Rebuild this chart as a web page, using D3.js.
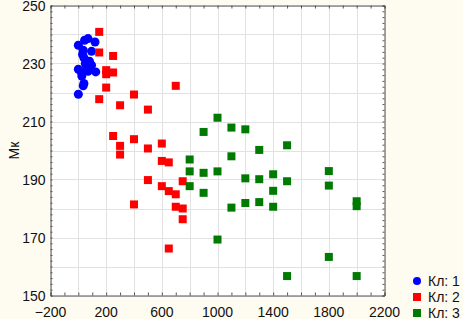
<!DOCTYPE html>
<html>

<head>
    <meta charset="UTF-8">
    <title>Clusters scatter</title>
    <script src="https://d3js.org/d3.v7.min.js"></script>
    <style>
        body { margin: 0; background: #fefbf1; }
        text { font-family: "Liberation Sans", Arial, sans-serif; }
    </style>
</head>

<body>
    <script>
        // Кл: 1
        const cl1X = [0, 45, 70, 120, 35, 30, 95, 50, 80, 95, 0, 20, 70, 125, 25, 40, 35, 0, 40, 60];
        const cl1Y = [236.3, 238, 238.6, 237.4, 234.6, 233.1, 234.2, 230, 230.8, 229.4, 228, 227.1, 227.3, 227.1, 225.7, 223.1, 222.3, 219.4, 232, 229];
        // Кл: 2
        const cl2X = [150, 150, 250, 200, 250, 200, 200, 700, 150, 400, 300, 500, 250, 400, 300, 300, 500, 600, 600, 650,
            500, 600, 650, 700, 750, 700, 750, 750, 400, 650];
        const cl2Y = [240.9, 233.8, 232.6, 227.7, 226.9, 226.3, 221.7, 222.3, 217.7, 219.3, 215.6, 214.1, 205, 203.9, 201.6, 198.6, 200.7, 202.4, 196.4, 195.9,
            189.8, 187.7, 186, 184.9, 189.4, 180.6, 180, 176.3, 181.4, 166.2];
        // Кл: 3
        const cl3X = [1000, 900, 1100, 1200, 1300, 1500, 1100, 800, 800, 900, 1000, 1200, 1300, 1400, 1500,
            800, 900, 1400, 1200, 1100, 1300, 1400, 1000, 1800, 1800, 2000, 2000, 1800, 2000, 1500];
        const cl3Y = [211.3, 206.4, 207.9, 207.3, 200.2, 201.8, 198, 196.9, 192.8, 192.3, 192.8, 190.4, 190.1, 191.8, 189.4,
            187.7, 185.4, 186.1, 181.9, 180.3, 182.2, 180.6, 169.3, 192.9, 187.9, 182.5, 180.8, 163.3, 156.7, 156.7];

        const legendLabels = ["Кл: 1", "Кл: 2", "Кл: 3"];
        const xTicks = [-200, 200, 600, 1000, 1400, 1800, 2200];
        const yTicks = [150, 170, 190, 210, 230, 250];
        const yLabel = "Мк";

        const width = 463, height = 319;
        const mLeft = 50.5, mRight = 384.5, mTop = 5.5, mBottom = 295.5;

        const x = d3.scaleLinear().domain([-200, 2200]).range([mLeft, mRight]);
        const y = d3.scaleLinear().domain([150, 250]).range([mBottom, mTop]);

        const svg = d3.select("body").append("svg")
            .attr("width", width).attr("height", height);

        svg.append("rect")
            .attr("x", mLeft).attr("y", mTop)
            .attr("width", mRight - mLeft).attr("height", mBottom - mTop)
            .attr("fill", "#ffffff");

        // grid
        const grid = svg.append("g").attr("stroke", "#e2e2e2").attr("stroke-width", 1);
        grid.selectAll("line.gx").data(d3.range(-200, 2201, 200)).enter().append("line")
            .attr("x1", d => Math.round(x(d)) + 0.5).attr("x2", d => Math.round(x(d)) + 0.5)
            .attr("y1", mTop).attr("y2", mBottom);
        grid.selectAll("line.gy").data(d3.range(150, 251, 10)).enter().append("line")
            .attr("y1", d => Math.round(y(d)) + 0.5).attr("y2", d => Math.round(y(d)) + 0.5)
            .attr("x1", mLeft).attr("x2", mRight);

        // axes: bottom/left with labels, top/right plain
        const fmt = d3.format("d");
        const xAxis = svg.append("g").attr("transform", `translate(0,${mBottom})`)
            .call(d3.axisBottom(x).tickValues(d3.range(-200, 2201, 100)).tickSize(-3).tickFormat(""));
        const yAxis = svg.append("g").attr("transform", `translate(${mLeft},0)`)
            .call(d3.axisLeft(y).tickValues(d3.range(150, 251, 2)).tickSize(-2).tickFormat(""));
        const xTop = svg.append("g").attr("transform", `translate(0,${mTop})`)
            .call(d3.axisTop(x).tickValues(d3.range(-200, 2201, 100)).tickSize(-3).tickFormat(""));
        const yRight = svg.append("g").attr("transform", `translate(${mRight},0)`)
            .call(d3.axisRight(y).tickValues(d3.range(150, 251, 2)).tickSize(-2).tickFormat(""));
        [xAxis, yAxis, xTop, yRight].forEach(g => {
            g.select(".domain").attr("stroke", "#555");
            g.selectAll(".tick line").attr("stroke", "#555");
        });

        svg.append("g").selectAll("text").data(xTicks).enter().append("text")
            .attr("x", d => x(d)).attr("y", mBottom + 21)
            .attr("text-anchor", "middle").attr("font-size", 14).attr("fill", "#111")
            .text(fmt);
        svg.append("g").selectAll("text").data(yTicks).enter().append("text")
            .attr("x", mLeft - 5).attr("y", d => y(d) + 5)
            .attr("text-anchor", "end").attr("font-size", 14).attr("fill", "#111")
            .text(fmt);

        svg.append("text")
            .attr("transform", `translate(19,${(mTop + mBottom) / 2}) rotate(-90)`)
            .attr("text-anchor", "middle").attr("font-size", 14).attr("fill", "#111")
            .text(yLabel);

        // points
        const pts = svg.append("g");
        pts.selectAll("circle").data(d3.zip(cl1X, cl1Y)).enter().append("circle")
            .attr("cx", d => x(d[0])).attr("cy", d => y(d[1])).attr("r", 4.5)
            .attr("fill", "#0000ff");
        pts.selectAll("rect.c2").data(d3.zip(cl2X, cl2Y)).enter().append("rect")
            .attr("class", "c2")
            .attr("x", d => x(d[0]) - 4).attr("y", d => y(d[1]) - 4)
            .attr("width", 8).attr("height", 8).attr("fill", "#ff0000");
        pts.selectAll("rect.c3").data(d3.zip(cl3X, cl3Y)).enter().append("rect")
            .attr("class", "c3")
            .attr("x", d => x(d[0]) - 4).attr("y", d => y(d[1]) - 4)
            .attr("width", 8).attr("height", 8).attr("fill", "#007a00");

        // legend
        const colors = ["#0000ff", "#ff0000", "#007a00"];
        const lg = svg.append("g").attr("transform", "translate(417,281)");
        legendLabels.forEach((t, i) => {
            const row = lg.append("g").attr("transform", `translate(0,${i * 16})`);
            if (i === 0) row.append("circle").attr("r", 4).attr("fill", colors[i]);
            else row.append("rect").attr("x", -4).attr("y", -4).attr("width", 8).attr("height", 8).attr("fill", colors[i]);
            row.append("text").attr("x", 11).attr("y", 5)
                .attr("font-size", 14).attr("fill", "#111").text(t);
        });
    </script>
</body>

</html>
